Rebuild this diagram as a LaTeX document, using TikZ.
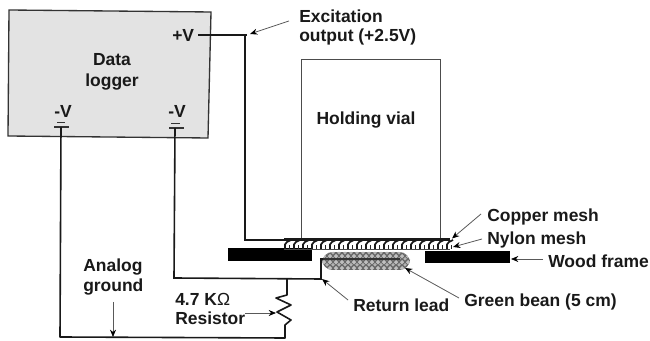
\documentclass[tikz,border=0pt]{standalone}
\usepackage{fontspec}
\setmainfont{Liberation Sans}
\usetikzlibrary{arrows.meta}
\begin{document}
\begin{tikzpicture}[x=0.75pt,y=-0.75pt,
  wire/.style={line width=1.2pt,black!90},
  thinbox/.style={line width=0.7pt,black!70},
  lead/.style={line width=0.6pt,black!65,-{Stealth[length=5.5pt,width=4.5pt,black]}},
  lbl/.style={inner sep=0pt,font=\fontsize{13.1pt}{14.4pt}\selectfont\bfseries,text=black!90,align=left},
  lblc/.style={lbl,align=center},
  wood/.style={fill=black,draw=none},
  gbar/.style={line width=1.4pt,black!80}]
\useasboundingbox (0,0) rectangle (650,341);
% data logger
\coordinate (la) at (9,10); \coordinate (lb) at (211,12); \coordinate (lc) at (208,138); \coordinate (ld) at (8,136);
\draw[fill=black!11,draw=black!80,line width=1pt] (la) -- (lb) -- (lc) -- (ld) -- cycle;
\node[lblc] (logger) at (112,72) {Data\\[1pt]logger};
\node[lbl,anchor=west] (pv) at (172,35) {+V};
\node[lblc] (mv1) at (63,111) {-V};
\node[lblc] (mv2) at (177,111) {-V};
% ground symbols
\coordinate (g1) at (61,127); \coordinate (g2) at (175,128);
\draw[gbar] (57,122.5) -- (65,122.5); \draw[gbar] (54,127) -- (69,127);
\draw[gbar] (171,123.5) -- (180,123.5); \draw[gbar] (169,128) -- (184,128);
% vial
\node[draw,thinbox,minimum width=104.25pt,minimum height=134.25pt,inner sep=0pt,anchor=north west] (vial) at (300.5,59) {};
\node[lblc] (vt) at (366,120) {Holding vial};
% wood frame
\node[wood,minimum width=63pt,minimum height=9.75pt,inner sep=0pt,anchor=north west] (wl) at (228,248) {};
\node[wood,minimum width=63.75pt,minimum height=9pt,inner sep=0pt,anchor=north west] (wr) at (425,251) {};
% mesh
\fill[black!90] (284,238) rectangle (450,241);
\foreach \x in {285,294,...,447}{
  \draw[line width=1.3pt,black!90] (\x,249) -- (\x,244.5) .. controls (\x,242.5) and (\x+3,241.5) .. (\x+6,240);
  \draw[line width=1.1pt,black!85] (\x+4.5,249) -- (\x+4.5,245);
}
\draw[line width=1pt,black!70] (284,249.5) -- (450,249.5);
\coordinate (mesh) at (284.5,240); \coordinate (meshr) at (452,238.5); \coordinate (nyl) at (453,247);
% bean
\begin{scope}
\clip[rounded corners=8pt] (322,252) rectangle (410,270);
\fill[black!60] (322,252) rectangle (410,270);
\foreach \i in {0,...,14}{
  \foreach \j in {0,1,2}{
    \fill[white!75!black] (324+\i*6,254+\j*6) -- ++(2.2,2.2) -- ++(-2.2,2.2) -- ++(-2.2,-2.2) -- cycle;
    \fill[white!70!black] (327+\i*6,251+\j*6) -- ++(1.8,1.8) -- ++(-1.8,1.8) -- ++(-1.8,-1.8) -- cycle;
  }
}
\draw[line width=1pt,black!80] (322,259) -- (400,259);
\end{scope}
\coordinate (bean) at (323,259); \coordinate (beanb) at (405,268);
% wiring
\coordinate (ex1) at (198,35); \coordinate (ex2) at (247,35); \coordinate (ex3) at (245,35);\coordinate (ex4) at (245,240);
\draw[wire] (ex1) -- (ex2);
\draw[wire] (ex3) -- (ex4) -- (mesh);
\coordinate (r1) at (174,278); \coordinate (r2) at (321,279); \coordinate (r3) at (321,259);
\draw[wire] (g2) -- (r1) -- (r2) -- (r3) -- (bean);
\coordinate (rt) at (287,279); \coordinate (rb) at (285,338); \coordinate (gb) at (60,337);
\draw[wire,line join=round] (rt) -- (287,295) -- (276,298) -- (291,305) -- (277,312) -- (291,320) -- (285,325) -- (rb) -- (gb) -- (g1);
\coordinate (rm) at (276,313);
% labels
\node[lbl,anchor=west] (exc) at (299,27.5) {Excitation\\output (+2.5V)};
\node[lbl,anchor=west] (ag) at (83,277) {Analog\\ground};
\node[lbl,anchor=west] (res) at (175,309) {4.7 K{\mdseries Ω}\\Resistor};
\node[lbl,anchor=west] (ret) at (353,305) {Return lead};
\node[lbl,anchor=west] (gbn) at (464,302) {Green bean (5 cm)};
\node[lbl,anchor=west] (cu) at (487,217) {Copper mesh};
\node[lbl,anchor=west] (ny) at (487,240) {Nylon mesh};
\node[lbl,anchor=west] (wf) at (548,261) {Wood frame};
% callouts
\coordinate (c1) at (289,21); \coordinate (c1e) at (250,34);
\draw[lead] (c1) -- (c1e);
\coordinate (c2) at (113,302); \coordinate (c2e) at (113,337);
\draw[lead] (c2) -- (c2e);
\coordinate (rs) at (245,313);
\draw[lead] (rs) -- (rm);
\coordinate (c3) at (348,300); \coordinate (c3e) at (322,279);
\draw[lead] (c3) -- (c3e);
\coordinate (c4) at (459,298);
\draw[lead] (c4) -- (beanb);
\coordinate (c5) at (481,214);
\draw[lead] (c5) -- (meshr);
\coordinate (c6) at (482,239);
\draw[lead] (c6) -- (nyl);
\coordinate (c7) at (543,259); \coordinate (c7e) at (511,259);
\draw[lead] (c7) -- (c7e);
\end{tikzpicture}
\end{document}
